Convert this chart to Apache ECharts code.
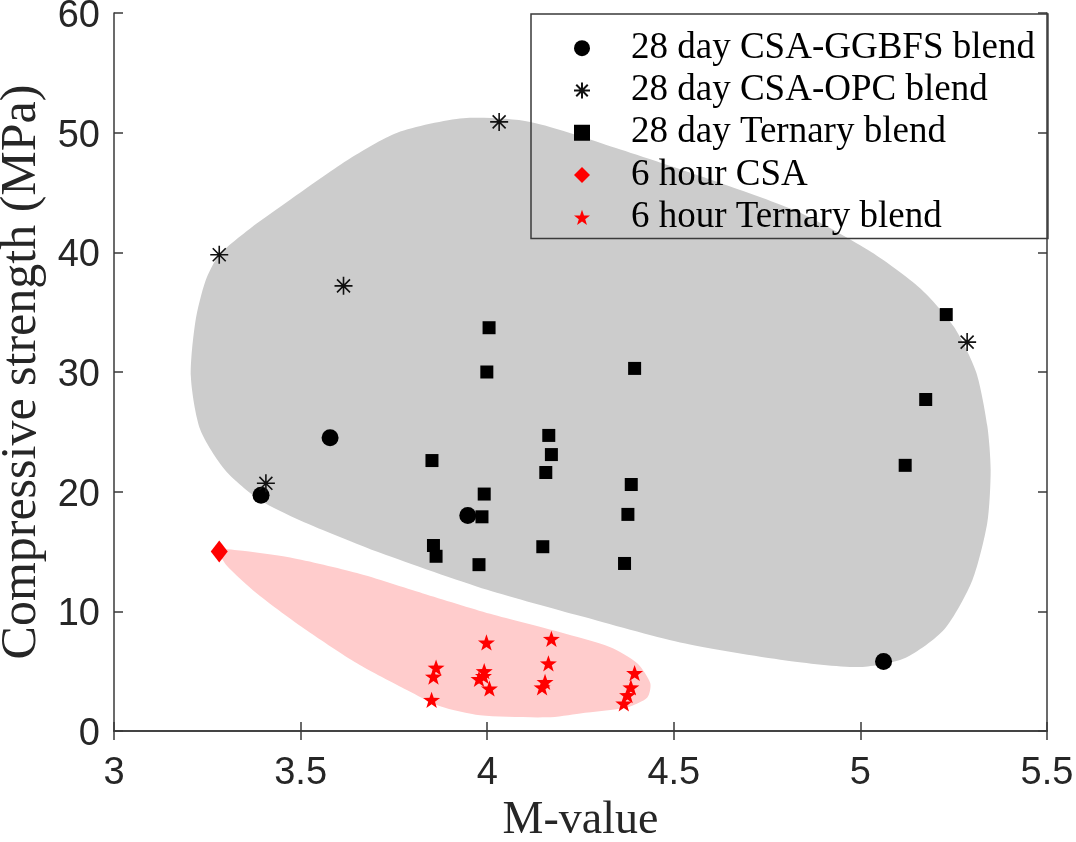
<!DOCTYPE html>
<html lang="en">
<head>
    <meta charset="utf-8"/>
    <title>Compressive strength vs M-value</title>
    <script type="text/javascript" src="https://cdn.jsdelivr.net/npm/echarts@6/dist/echarts.min.js"></script>
    <style>
        html, body {
            margin: 0;
            background: #FFFFFF;
        }

        #chart {
            width: 1076px;
            height: 842px;
        }
    </style>
</head>
<body>
<div id="chart"></div>
<script>
    // x ticks / y ticks
    var xTicks = [3, 3.5, 4, 4.5, 5, 5.5]
    var yTicks = [0, 10, 20, 30, 40, 50, 60]

    // [M-value, strength]
    var ggbfs28 = [[3.394, 19.7], [3.579, 24.5], [3.948, 18.0], [5.062, 5.8]]
    var opc28 = [[3.282, 39.8], [3.615, 37.2], [3.407, 20.7], [4.032, 50.9], [5.286, 32.5]]
    var ternary28 = [
        [4.005, 33.7], [3.999, 30.0], [4.395, 30.3], [4.165, 24.7], [4.172, 23.1],
        [4.157, 21.6], [3.852, 22.6], [3.992, 19.8], [3.986, 17.9], [4.386, 20.6],
        [4.377, 18.1], [3.856, 15.5], [3.863, 14.6], [3.978, 13.9], [4.149, 15.4],
        [4.368, 14.0], [5.230, 34.8], [5.175, 27.7], [5.120, 22.2]
    ]
    var csa6h = [[3.282, 15.0]]
    var ternary6h = [
        [3.998, 7.4], [4.172, 7.7], [3.863, 5.3], [3.856, 4.55], [3.851, 2.6],
        [3.992, 5.0], [3.978, 4.35], [3.990, 4.6], [4.006, 3.55], [4.164, 5.65],
        [4.155, 4.1], [4.147, 3.65], [4.395, 4.85], [4.385, 3.65], [4.376, 3.0],
        [4.366, 2.3]
    ]

    // shaded regions (outline in data units)
    var greyRegion = [
        [3.206, 29.6], [3.218, 34.2], [3.245, 37.6], [3.282, 39.8], [3.365, 42.0],
        [3.472, 44.4], [3.625, 47.7], [3.759, 50.0], [3.936, 51.2], [4.115, 50.9],
        [4.357, 48.6], [4.625, 45.8], [4.839, 43.3], [5.030, 40.0], [5.160, 37.0],
        [5.250, 33.8], [5.310, 30.0], [5.340, 25.5], [5.349, 21.8], [5.340, 17.4],
        [5.300, 12.6], [5.225, 8.5], [5.120, 6.1], [5.000, 5.35],
        [4.800, 5.9], [4.517, 7.4], [4.250, 9.6], [4.000, 11.8], [3.713, 14.9],
        [3.499, 17.6], [3.391, 19.3], [3.298, 21.8], [3.231, 25.2]
    ]
    var pinkRegion = [
        [3.282, 15.1], [3.330, 15.1], [3.472, 14.5], [3.651, 13.2], [3.828, 11.5],
        [4.008, 9.8], [4.196, 8.25], [4.330, 7.0], [4.402, 5.66], [4.437, 3.98],
        [4.429, 2.8], [4.375, 1.98], [4.249, 1.47], [4.161, 1.14], [3.981, 1.31],
        [3.874, 2.06], [3.786, 3.4], [3.651, 5.66], [3.517, 8.4], [3.383, 11.5],
        [3.300, 13.9]
    ]

    var asterisk = 'path://M0,-1L0,1M-1,0L1,0M-0.72,-0.72L0.72,0.72M-0.72,0.72L0.72,-0.72'
    var star = 'path://M0,-1L0.235,-0.324L0.951,-0.309L0.380,0.124L0.588,0.809L0,0.4L-0.588,0.809L-0.380,0.124L-0.951,-0.309L-0.235,-0.324Z'

    var axisColor = '#3a3a3a'
    var serif = '"Liberation Serif", "Times New Roman", serif'
    var sans = '"Liberation Sans", Arial, sans-serif'

    function regionSeries(points, color) {
        return {
            type: 'custom',
            silent: true,
            z: 1,
            data: [0],
            renderItem: function (params, api) {
                return {
                    type: 'polygon',
                    shape: {
                        points: points.map(function (p) { return api.coord(p) }),
                        smooth: 0.25
                    },
                    style: {fill: color}
                }
            }
        }
    }

    var chart = echarts.init(document.getElementById('chart'))

    chart.setOption({
        animation: false,
        grid: {left: 114, right: 29, top: 13, bottom: 111, outerBoundsMode: 'none'},
        legend: {
            orient: 'vertical',
            left: 531,
            top: 14,
            padding: [13, 13, 0, 42],
            itemWidth: 16,
            itemHeight: 16,
            itemGap: 0,
            borderColor: axisColor,
            borderWidth: 1.5,
            backgroundColor: 'transparent',
            textStyle: {
                fontFamily: serif,
                fontSize: 37,
                color: '#000',
                lineHeight: 42.3,
                padding: [0, 0, 0, 36]
            },
            data: ['28 day CSA-GGBFS blend', '28 day CSA-OPC blend', '28 day Ternary blend',
                '6 hour CSA', '6 hour Ternary blend']
        },
        xAxis: [{
            type: 'value',
            min: xTicks[0],
            max: xTicks[xTicks.length - 1],
            interval: 0.5,
            name: 'M-value',
            nameLocation: 'middle',
            nameGap: 62,
            nameTextStyle: {fontFamily: serif, fontSize: 46, color: '#262626'},
            axisLine: {show: true, lineStyle: {color: axisColor, width: 1.5}},
            axisTick: {show: true, inside: true, length: 9, lineStyle: {color: axisColor, width: 1.5}},
            axisLabel: {fontFamily: sans, fontSize: 38, color: '#262626', margin: 24},
            splitLine: {show: false}
        }, {
            type: 'value',
            position: 'top',
            min: xTicks[0],
            max: xTicks[xTicks.length - 1],
            interval: 0.5,
            axisLine: {show: true, lineStyle: {color: axisColor, width: 1.5}},
            axisTick: {show: true, inside: true, length: 9, lineStyle: {color: axisColor, width: 1.5}},
            axisLabel: {show: false},
            splitLine: {show: false}
        }],
        yAxis: [{
            type: 'value',
            min: yTicks[0],
            max: yTicks[yTicks.length - 1],
            interval: 10,
            name: 'Compressive strength (MPa)',
            nameLocation: 'middle',
            nameGap: 66,
            nameTextStyle: {fontFamily: serif, fontSize: 50, color: '#262626'},
            axisLine: {show: true, lineStyle: {color: axisColor, width: 1.5}},
            axisTick: {show: true, inside: true, length: 9, lineStyle: {color: axisColor, width: 1.5}},
            axisLabel: {
                margin: 14,
                formatter: '{v|{value}}',
                rich: {v: {fontFamily: sans, fontSize: 38, color: '#262626', padding: [7, 0, 0, 0]}}
            },
            splitLine: {show: false}
        }, {
            type: 'value',
            position: 'right',
            min: yTicks[0],
            max: yTicks[yTicks.length - 1],
            interval: 10,
            axisLine: {show: true, lineStyle: {color: axisColor, width: 1.5}},
            axisTick: {show: true, inside: true, length: 9, lineStyle: {color: axisColor, width: 1.5}},
            axisLabel: {show: false},
            splitLine: {show: false}
        }],
        series: [
            regionSeries(greyRegion, '#cccccc'),
            regionSeries(pinkRegion, '#ffcccc'),
            {
                name: '28 day CSA-GGBFS blend',
                type: 'scatter',
                z: 5,
                symbol: 'circle',
                symbolSize: 17,
                itemStyle: {color: '#000', opacity: 1},
                data: ggbfs28
            },
            {
                name: '28 day CSA-OPC blend',
                type: 'scatter',
                z: 5,
                symbol: asterisk,
                symbolSize: 18,
                symbolKeepAspect: true,
                itemStyle: {color: 'transparent', borderColor: '#111', borderWidth: 1.6, opacity: 1},
                data: opc28
            },
            {
                name: '28 day Ternary blend',
                type: 'scatter',
                z: 5,
                symbol: 'rect',
                symbolSize: 13,
                itemStyle: {color: '#000', opacity: 1},
                data: ternary28
            },
            {
                name: '6 hour CSA',
                type: 'scatter',
                z: 5,
                symbol: 'diamond',
                symbolSize: [17, 22],
                itemStyle: {color: '#ff0000', opacity: 1},
                data: csa6h
            },
            {
                name: '6 hour Ternary blend',
                type: 'scatter',
                z: 5,
                symbol: star,
                symbolSize: 17,
                symbolKeepAspect: true,
                itemStyle: {color: '#ff0000', opacity: 1},
                data: ternary6h
            }
        ]
    })
</script>
</body>
</html>
